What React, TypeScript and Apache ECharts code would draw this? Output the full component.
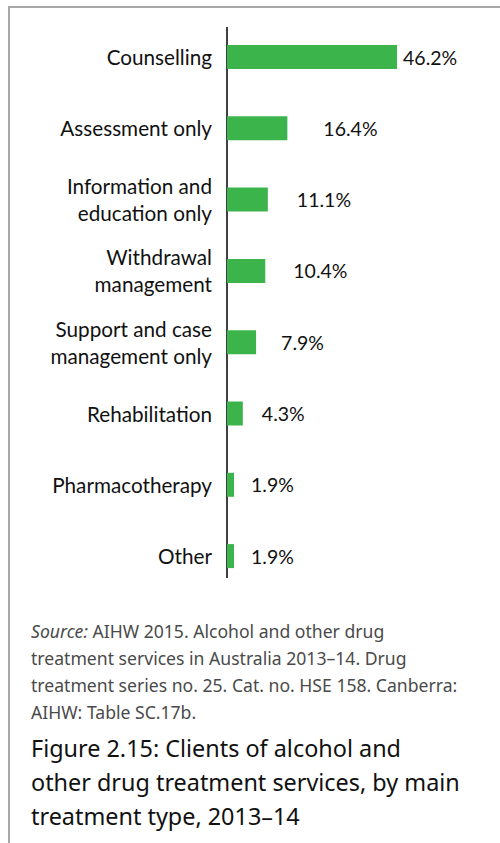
import React, { useEffect, useRef } from "react";
import * as echarts from "echarts";

const categories = [
  "Counselling",
  "Assessment only",
  "Information and\neducation only",
  "Withdrawal\nmanagement",
  "Support and case\nmanagement only",
  "Rehabilitation",
  "Pharmacotherapy",
  "Other",
];
const values = [46.2, 16.4, 11.1, 10.4, 7.9, 4.3, 1.9, 1.9];
const labelGaps = [6, 36, 29, 28, 25, 19, 17, 17];

const sourceLines = [
  "{i|Source:} AIHW 2015. Alcohol and other drug",
  "treatment services in Australia 2013–14. Drug",
  "treatment series no. 25. Cat. no. HSE 158. Canberra:",
  "AIHW: Table SC.17b.",
];
const titleLines = [
  "Figure 2.15: Clients of alcohol and",
  "other drug treatment services, by main",
  "treatment type, 2013–14",
];

export default function App() {
  const ref = useRef<HTMLDivElement>(null);
  useEffect(() => {
    if (!ref.current) return;
    const chart = echarts.init(ref.current, null, { renderer: "svg" });
    chart.setOption({
      animation: false,
      backgroundColor: "#ffffff",
      grid: { left: 227, top: 21.35, width: 220.8, height: 570.4, containLabel: false },
      xAxis: { type: "value", min: 0, max: 60, show: false },
      yAxis: {
        type: "category",
        inverse: true,
        data: categories,
        axisLine: { show: false },
        axisTick: { show: false },
        axisLabel: {
          margin: 15,
          fontFamily: "Lato",
          fontSize: 20.7,
          lineHeight: 27,
          color: "#111111",
          align: "right",
        },
      },
      series: [
        {
          type: "bar",
          barWidth: 24,
          itemStyle: { color: "#3BB44B" },
          data: values.map((v, i) => ({
            value: v,
            label: { distance: labelGaps[i] },
          })),
          label: {
            show: true,
            position: "right",
            fontFamily: "Lato",
            fontSize: 19.5,
            color: "#111111",
            formatter: (p: any) => p.value.toFixed(1) + "%",
          },
        },
      ],
      graphic: [
        { type: "line", shape: { x1: 8, y1: 7, x2: 500, y2: 7 }, style: { stroke: "#a8a8a8", lineWidth: 2 } },
        { type: "line", shape: { x1: 9, y1: 6, x2: 9, y2: 843 }, style: { stroke: "#a8a8a8", lineWidth: 2 } },
        { type: "line", shape: { x1: 227, y1: 27, x2: 227, y2: 578 }, style: { stroke: "#000000", lineWidth: 1.5 } },
        {
          type: "text",
          left: 31,
          top: 617,
          style: {
            text: sourceLines.join("\n"),
            fontFamily: "Noto Sans",
            fontSize: 17.6,
            lineHeight: 27,
            fill: "#4a4a4a",
            rich: {
              i: { fontStyle: "italic", fontFamily: "Noto Sans", fontSize: 17.6, fill: "#4a4a4a", lineHeight: 27 },
            },
          },
        },
        {
          type: "text",
          left: 31,
          top: 731,
          style: {
            text: titleLines.join("\n"),
            fontFamily: "Noto Sans",
            fontSize: 23.4,
            lineHeight: 34,
            fill: "#111111",
          },
        },
      ],
    });
    return () => chart.dispose();
  }, []);
  return (
    <div
      ref={ref}
      style={{ position: "absolute", left: 0, top: 0, width: 500, height: 843 }}
    />
  );
}
